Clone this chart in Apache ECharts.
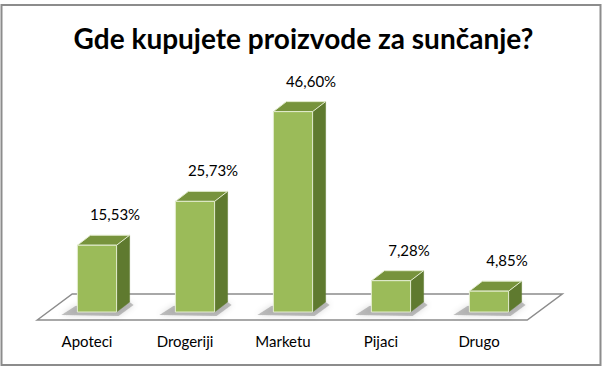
<!DOCTYPE html>
<html><head><meta charset="utf-8">
<script src="https://cdn.jsdelivr.net/npm/echarts@6/dist/echarts.min.js"></script>
<style>html,body{margin:0;padding:0;background:#fff}#c{width:607px;height:374px}</style>
</head><body><div id="c"></div>
<script>
var titleText = 'Gde kupujete proizvode za sunčanje?';
var categories = ['Apoteci', 'Drogeriji', 'Marketu', 'Pijaci', 'Drugo'];
var values = [15.53, 25.73, 46.60, 7.28, 4.85];
var valueLabels = ['15,53%', '25,73%', '46,60%', '7,28%', '4,85%'];

var FONT = 'Lato';
var DX = 13, DY = -10;

var chart = echarts.init(document.getElementById('c'), null, {renderer: 'svg'});

function renderFloor(params, api) {
  var cs = params.coordSys;
  var y0 = api.coord([0, 0])[1];
  var k = 35 / 26;
  var f = 8, b = 18;
  var L = cs.x, R = cs.x + cs.width;
  return {
    type: 'polygon', silent: true,
    shape: {points: [[L - f * k, y0 + f], [L + b * k, y0 - b], [R + b * k, y0 - b], [R - f * k, y0 + f]]},
    style: {fill: '#fff', stroke: '#8c8c8c', lineWidth: 1.5}
  };
}

function renderBar(params, api) {
  var i = api.value(0), v = api.value(1);
  var p0 = api.coord([i, 0]), p1 = api.coord([i, v]);
  var band = api.size([1, 0])[0];
  var w = band * 0.4;
  var x0 = p0[0] - w / 2, x1 = p0[0] + w / 2, yb = p0[1], yt = p1[1];
  return {
    type: 'group',
    children: [
      {type: 'polygon', silent: true,
        shape: {points: [[x0 - 16, yb + 3], [x0 - 2, yb - 6], [x1 + DX, yb + DY], [x1 + DX + 4, yb + DY + 3], [x1 + 2, yb + 4]]},
        style: {fill: 'rgba(80,80,80,0.35)', shadowBlur: 6, shadowColor: 'rgba(0,0,0,0.4)'}},
      {type: 'polygon',
        shape: {points: [[x1, yt], [x1 + DX, yt + DY], [x1 + DX, yb + DY], [x1, yb]]},
        style: {fill: '#5F7A2F', stroke: '#5F7A2F', lineWidth: 0.5}},
      {type: 'polygon',
        shape: {points: [[x0, yt], [x0 + DX, yt + DY], [x1 + DX, yt + DY], [x1, yt]]},
        style: {fill: '#77933C', stroke: '#E3ECCF', lineWidth: 1}},
      {type: 'rect',
        shape: {x: x0, y: yt, width: w, height: yb - yt},
        style: {fill: '#9BBB59', stroke: '#E3ECCF', lineWidth: 1}},
      {type: 'text',
        x: p0[0] + 18, y: yt + DY - 21,
        style: {text: valueLabels[params.dataIndex], fontFamily: FONT, fontSize: 15, fill: '#000',
          textAlign: 'center', textVerticalAlign: 'middle'}}
    ]
  };
}

var barData = values.map(function (v, i) { return [i, v]; });

chart.setOption({
  animation: false,
  backgroundColor: '#fff',
  title: {
    text: titleText, left: 'center', top: 19,
    textStyle: {fontFamily: FONT, fontSize: 28, fontWeight: 'bold', color: '#000'}
  },
  grid: {left: 48, right: 69, top: 97, bottom: 62},
  xAxis: {
    type: 'category', data: categories,
    axisLine: {show: false}, axisTick: {show: false}, splitLine: {show: false},
    axisLabel: {margin: 21, fontFamily: FONT, fontSize: 15, color: '#000', padding: [0, 20, 0, 0]}
  },
  yAxis: {type: 'value', min: 0, max: 50, show: false},
  graphic: [{
    type: 'rect', silent: true,
    shape: {x: 1.5, y: 5, width: 599, height: 360},
    style: {fill: 'none', stroke: '#8c8c8c', lineWidth: 2}
  }],
  series: [
    {type: 'custom', renderItem: renderFloor, data: [[0, 0]], silent: true, z: 1},
    {type: 'custom', renderItem: renderBar, data: barData, z: 2}
  ]
});
</script>
</body></html>
